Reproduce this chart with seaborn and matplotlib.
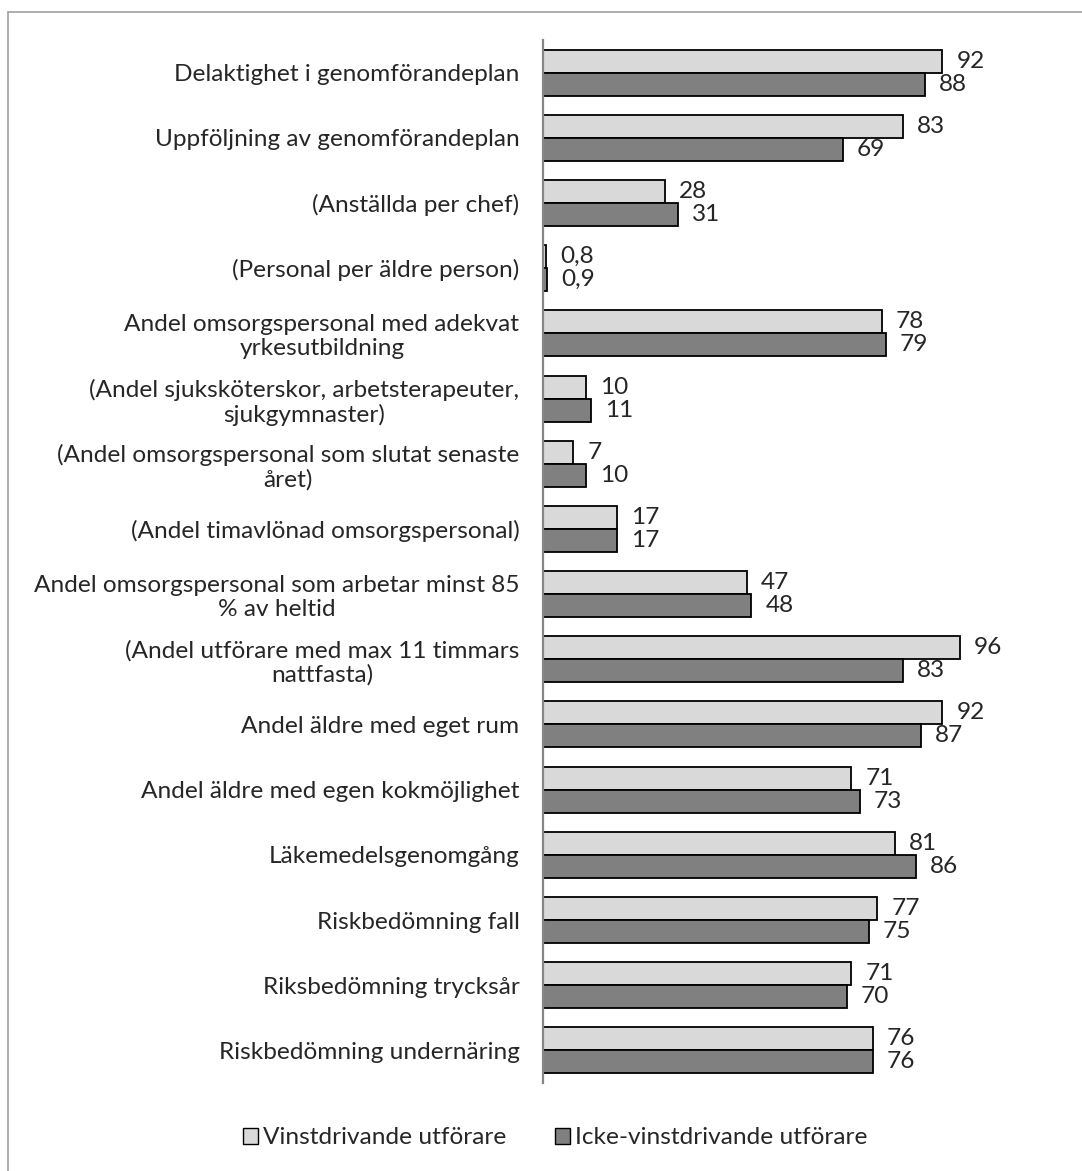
import matplotlib
matplotlib.use("Agg")
import matplotlib.pyplot as plt
from matplotlib.lines import Line2D
from matplotlib.patches import Patch
import seaborn as sns
import pandas as pd

categories = [
    "Delaktighet i genomförandeplan",
    "Uppföljning av genomförandeplan",
    "(Anställda per chef)",
    "(Personal per äldre person)",
    "Andel omsorgspersonal med adekvat\nyrkesutbildning",
    "(Andel sjuksköterskor, arbetsterapeuter,\nsjukgymnaster)",
    "(Andel omsorgspersonal som slutat senaste\nåret)",
    "(Andel timavlönad omsorgspersonal)",
    "Andel omsorgspersonal som arbetar minst 85\n% av heltid",
    "(Andel utförare med max 11 timmars\nnattfasta)",
    "Andel äldre med eget rum",
    "Andel äldre med egen kokmöjlighet",
    "Läkemedelsgenomgång",
    "Riskbedömning fall",
    "Riksbedömning trycksår",
    "Riskbedömning undernäring",
]
vinst = [92, 83, 28, 0.8, 78, 10, 7, 17, 47, 96, 92, 71, 81, 77, 71, 76]
icke = [88, 69, 31, 0.9, 79, 11, 10, 17, 48, 83, 87, 73, 86, 75, 70, 76]
series = ["Vinstdrivande utförare", "Icke-vinstdrivande utförare"]
colors = ["#d9d9d9", "#808080"]

df = pd.DataFrame({
    "kategori": categories * 2,
    "värde": vinst + icke,
    "serie": [series[0]] * len(categories) + [series[1]] * len(categories),
})

sns.set_style("white")
plt.rcParams["font.family"] = ["Lato", "DejaVu Sans"]
FS = 17.6

fig = plt.figure(figsize=(10.82, 11.71), dpi=100)
ax = fig.add_axes([543 / 1082, 1 - 1083 / 1171, (1064 - 543) / 1082, (1083 - 40) / 1171])

sns.barplot(data=df, y="kategori", x="värde", hue="serie", hue_order=series,
            palette=colors, orient="h", width=0.706, edgecolor="black",
            linewidth=1.3, ax=ax, legend=False, errorbar=None)

ax.set_xlim(0, 120)
ax.set_ylim(len(categories) - 0.5, -0.5)
ax.set_xlabel("")
ax.set_ylabel("")
ax.set_xticks([])
ax.set_yticks(range(len(categories)))
ax.set_yticklabels(categories, multialignment="center", fontsize=FS, linespacing=1.18)
ax.tick_params(axis="y", length=0, pad=17)
for s in ["top", "right", "bottom"]:
    ax.spines[s].set_visible(False)
ax.spines["left"].set_color("#868686")
ax.spines["left"].set_linewidth(1.6)

for cont, vals in zip(ax.containers, [vinst, icke]):
    labels = [f"{v:g}".replace(".", ",") for v in vals]
    ax.bar_label(cont, labels=labels, padding=10, fontsize=FS)

handles = [Patch(facecolor=c, edgecolor="black", linewidth=1.0) for c in colors]
fig.legend(handles, series, loc="center", bbox_to_anchor=(555 / 1082, 1 - 1138 / 1171),
           ncol=2, frameon=False, fontsize=FS, handlelength=0.62, handleheight=0.62,
           handletextpad=0.2, columnspacing=2.0)

fig.add_artist(Line2D([8 / 1082, 1], [1 - 12 / 1171] * 2, color="#a0a0a0", lw=1.2))
fig.add_artist(Line2D([8 / 1082] * 2, [0, 1 - 12 / 1171], color="#a0a0a0", lw=1.2))

fig.savefig("out.png", dpi=100)
